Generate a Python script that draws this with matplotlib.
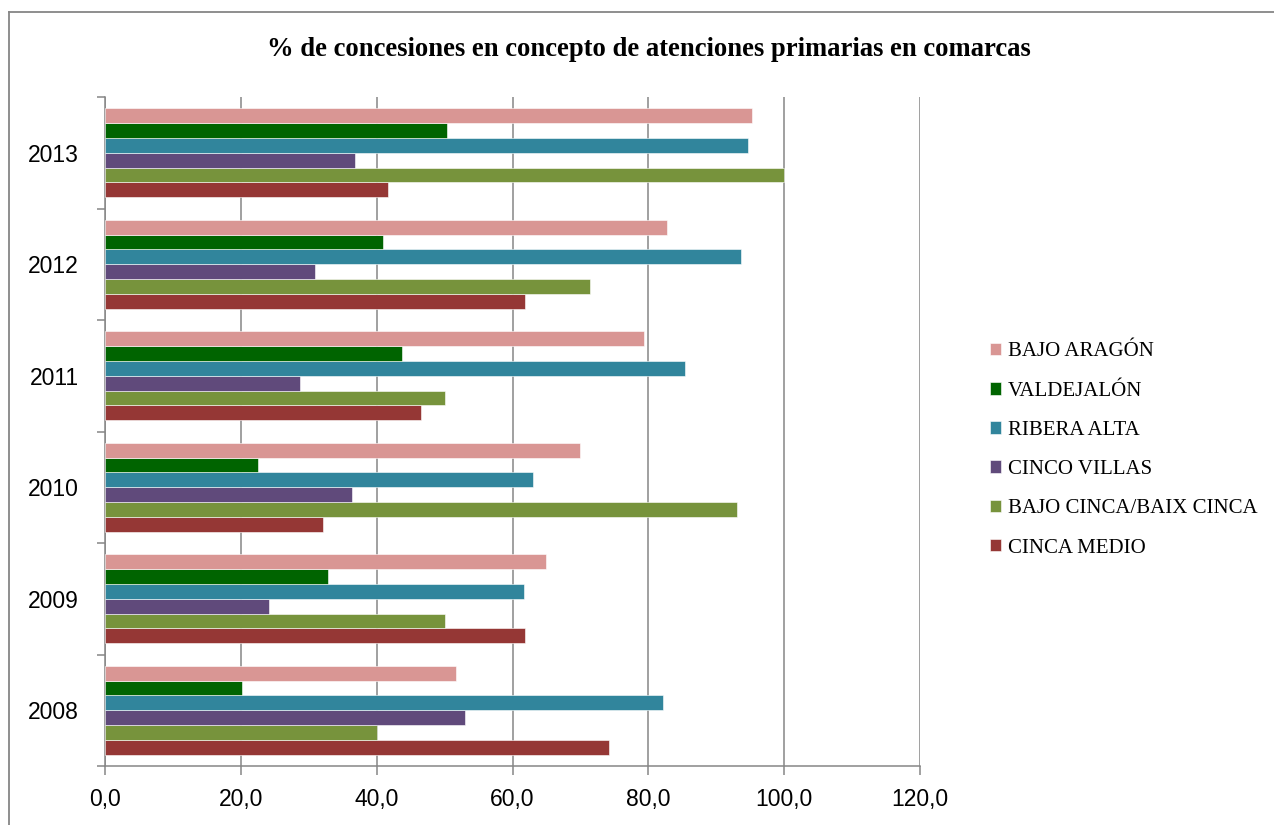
import matplotlib
matplotlib.use("Agg")
import matplotlib.pyplot as plt
from matplotlib.lines import Line2D
import numpy as np

years = ["2008", "2009", "2010", "2011", "2012", "2013"]
# series in Excel order: first series sits at the bottom of each group
comarcas = ["CINCA MEDIO", "BAJO CINCA/BAIX CINCA", "CINCO VILLAS",
            "RIBERA ALTA", "VALDEJALÓN", "BAJO ARAGÓN"]
cinca_medio = [74.2, 61.9, 32.1, 46.5, 61.8, 41.7]
bajo_cinca = [40.0, 50.0, 93.0, 50.0, 71.4, 100.0]
cinco_villas = [53.0, 24.1, 36.3, 28.7, 30.9, 36.8]
ribera_alta = [82.2, 61.7, 63.0, 85.4, 93.7, 94.7]
valdejalon = [20.2, 32.8, 22.6, 43.8, 40.9, 50.4]
bajo_aragon = [51.7, 64.9, 70.0, 79.3, 82.7, 95.3]
series = [cinca_medio, bajo_cinca, cinco_villas, ribera_alta, valdejalon, bajo_aragon]
colors = ["#953735", "#77933C", "#604A7B", "#31859C", "#006400", "#D99694"]
xticks = [0, 20, 40, 60, 80, 100, 120]

GRID = "#868686"
W, H = 1274, 825
fig = plt.figure(figsize=(W / 100, H / 100), dpi=100)
ax = fig.add_axes([105 / W, 1 - 766 / H, (920 - 105) / W, (766 - 97) / H])

bh = 0.8 / len(series)
y = np.arange(len(years))
for i, (vals, c, name) in enumerate(zip(series, colors, comarcas)):
    ax.barh(y - 0.4 + (i + 0.5) * bh, vals, height=bh, color=c,
            edgecolor="white", linewidth=0.4, label=name, zorder=3)

ax.set_xlim(0, 120)
ax.set_ylim(-0.5, len(years) - 0.5)
ax.set_xticks(xticks)
ax.set_xticklabels([f"{v:.1f}".replace(".", ",") for v in xticks],
                   fontsize=16.5, family="Liberation Sans")
ax.set_yticks(y)
ax.set_yticklabels(years, fontsize=16.5, family="Liberation Sans")
ax.set_yticks(np.arange(-0.5, len(years)), minor=True)
ax.tick_params(axis="y", which="major", length=0, pad=19)
ax.tick_params(axis="y", which="minor", length=6, width=1.1, color=GRID, direction="out")
ax.tick_params(axis="x", length=6.5, width=1.1, color=GRID, direction="out", pad=9)
ax.grid(True, axis="x", color=GRID, lw=1.1, zorder=0)
for s in ["top", "right"]:
    ax.spines[s].set_visible(False)
for s in ["left", "bottom"]:
    ax.spines[s].set_color(GRID)
    ax.spines[s].set_linewidth(1.1)

fig.text(649 / W, 1 - 50 / H,
         "% de concesiones en concepto de atenciones primarias en comarcas",
         ha="center", va="center", fontsize=19.2, fontweight="bold",
         family="Liberation Serif")

h, l = ax.get_legend_handles_labels()
fig.legend(h[::-1], l[::-1], loc="center left", bbox_to_anchor=(990 / W, 1 - 450 / H),
           frameon=False, prop={"family": "Liberation Serif", "size": 15},
           handlelength=0.55, handleheight=0.55, handletextpad=0.3,
           labelspacing=0.97, borderpad=0, borderaxespad=0)

# outer chart border
fig.add_artist(Line2D([9 / W, 9 / W], [0, 1 - 12 / H], color=GRID, lw=1.3,
                      transform=fig.transFigure))
fig.add_artist(Line2D([9 / W, 1], [1 - 12 / H, 1 - 12 / H], color=GRID, lw=1.3,
                      transform=fig.transFigure))

fig.savefig("out.png", dpi=100)
